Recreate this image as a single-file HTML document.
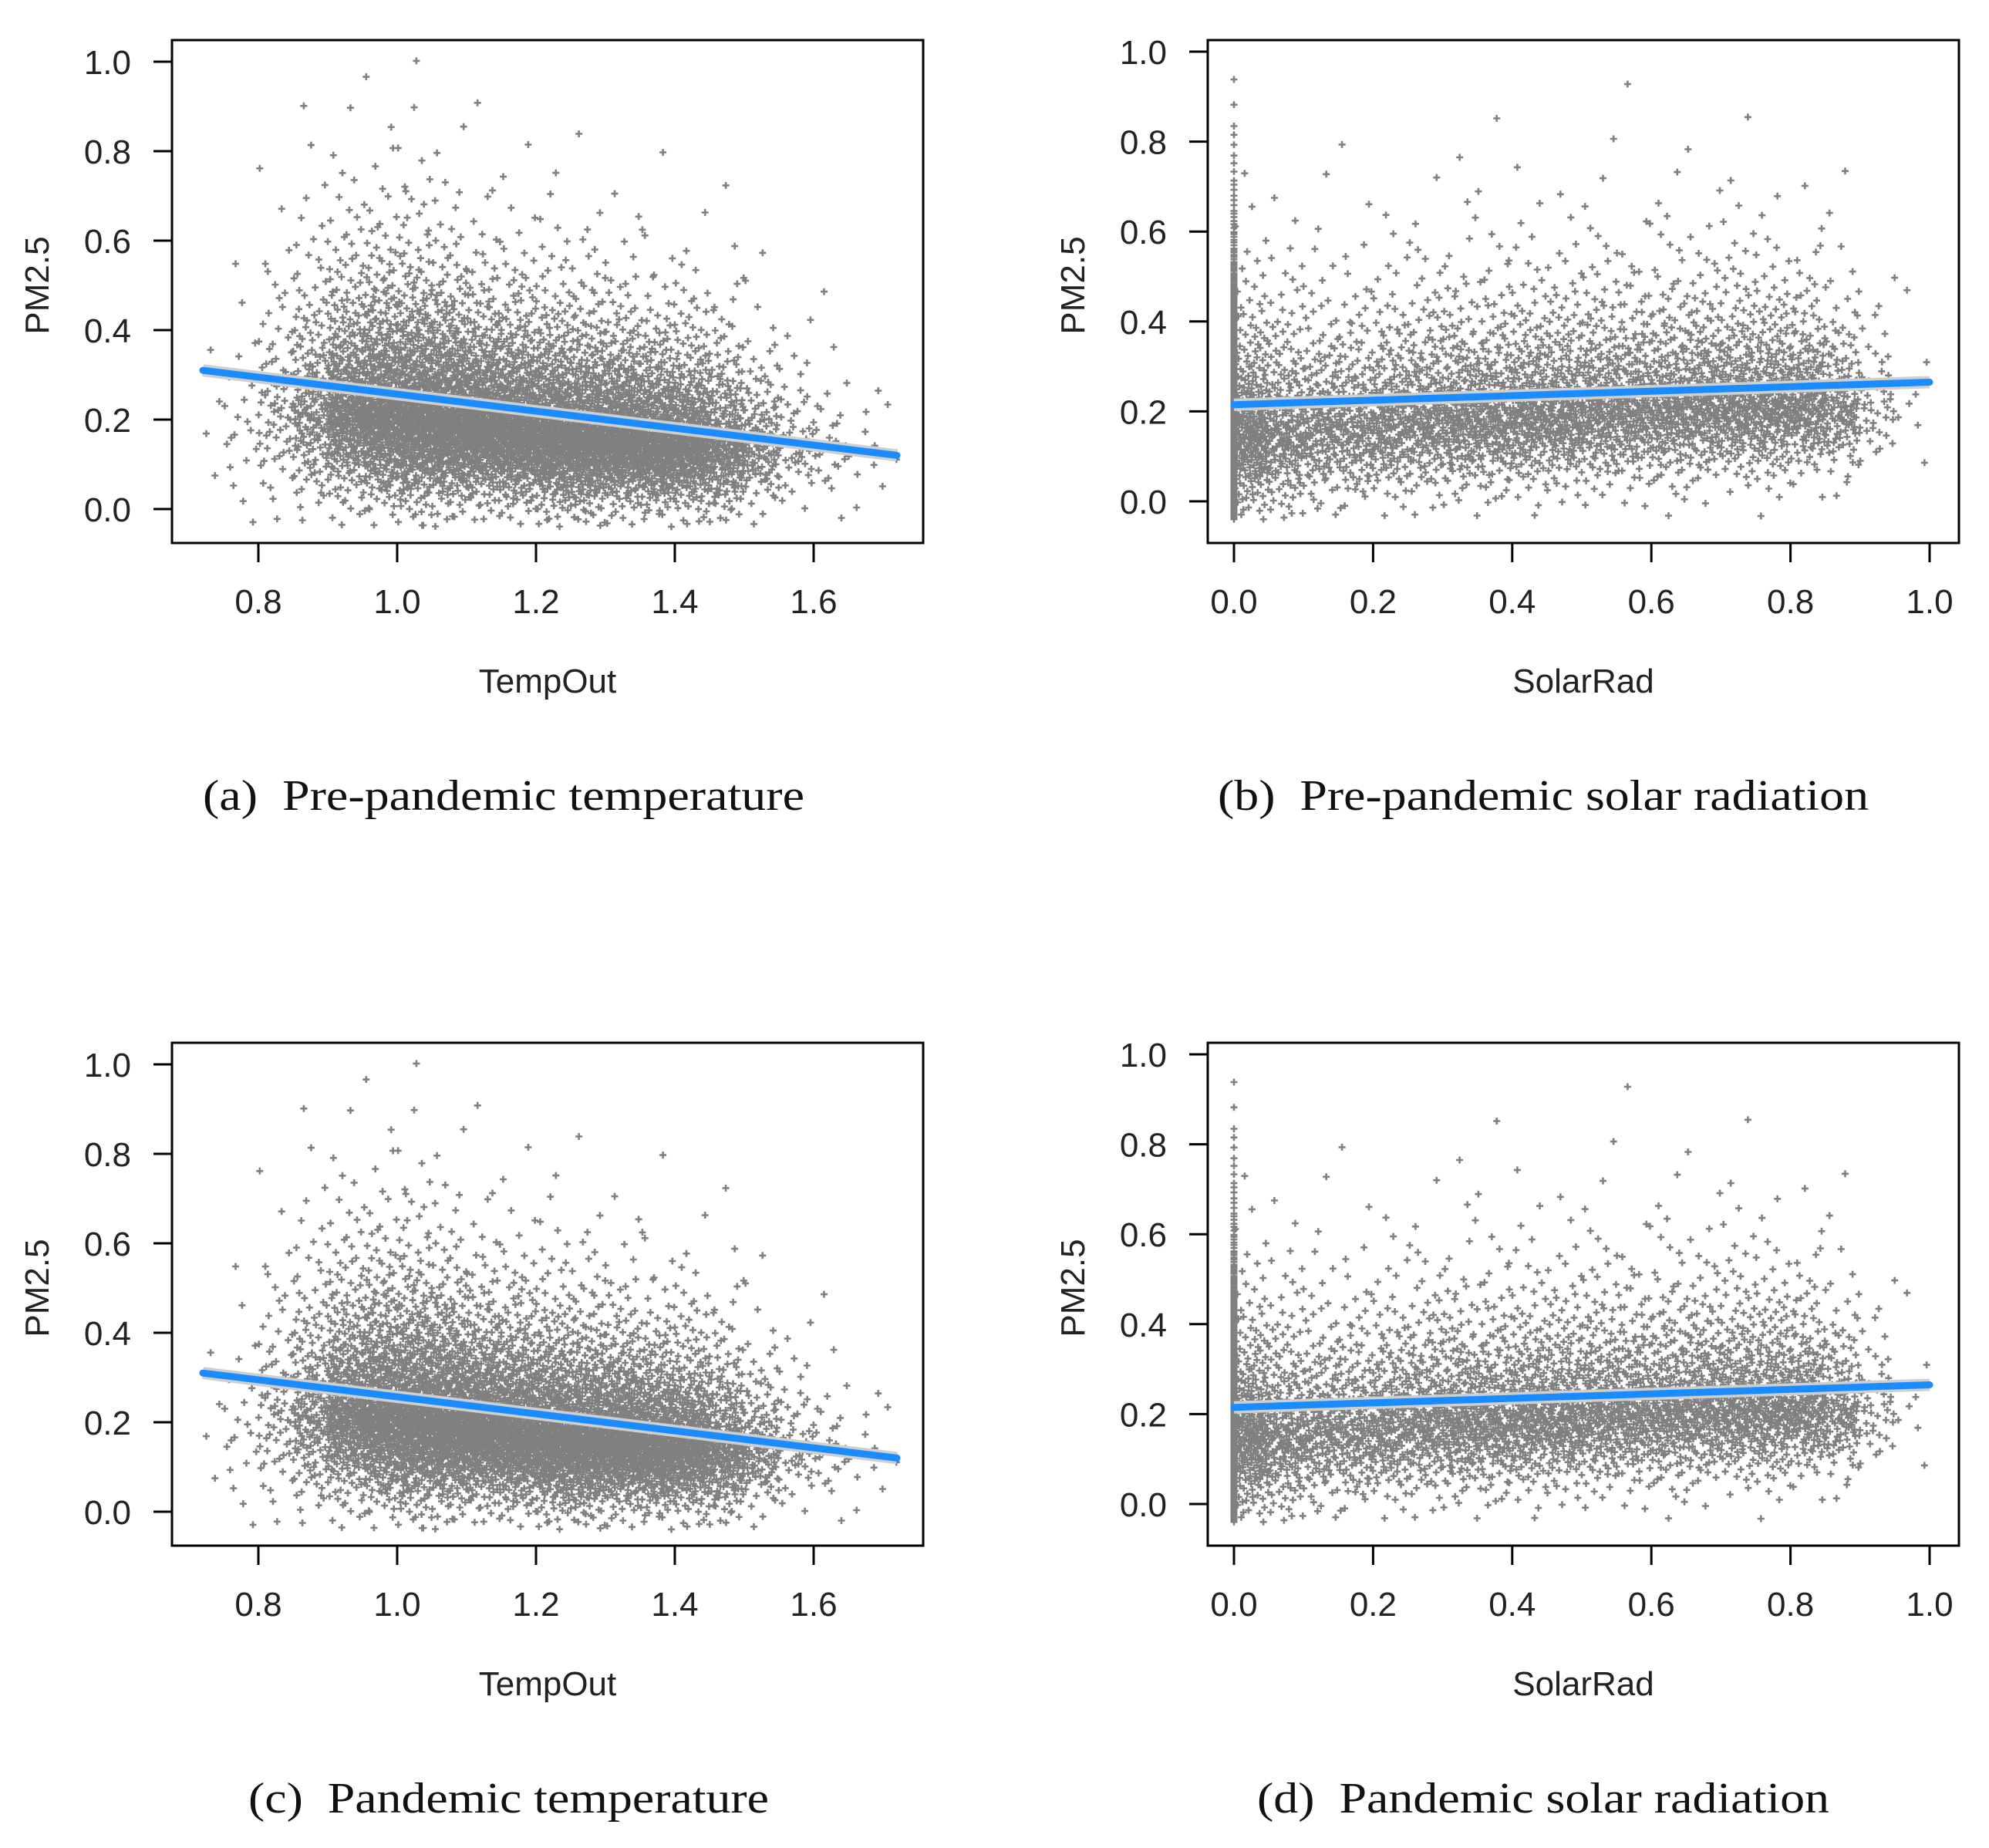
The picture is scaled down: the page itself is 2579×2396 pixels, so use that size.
<!DOCTYPE html>
<html><head><meta charset="utf-8"><style>
html,body{margin:0;padding:0;background:#fff;}
svg{display:block;}
</style></head><body>
<svg id="fig" width="2579" height="2396" viewBox="0 0 2579 2396" xmlns="http://www.w3.org/2000/svg"></svg>
<script>
// ---- data ----
const tempBinStart = [0.70,0.75,0.80,0.85,0.90,0.95,1.00,1.05,1.10,1.15,1.20,1.25,1.30,1.35,1.40,1.45,1.50,1.55,1.60,1.65,1.70];
const tempBinCount = [8,20,70,170,330,450,500,500,480,450,440,430,420,400,330,240,120,50,25,10,3];
const tempBinMean  = [0.22,0.20,0.24,0.24,0.24,0.23,0.22,0.21,0.20,0.19,0.18,0.17,0.17,0.16,0.16,0.15,0.15,0.15,0.15,0.12,0.12];
const tempBinSd    = [0.14,0.12,0.13,0.13,0.12,0.12,0.12,0.11,0.10,0.10,0.10,0.10,0.09,0.09,0.09,0.09,0.08,0.08,0.08,0.08,0.05];
const tempFitX = [0.72,1.72];
const tempFitY = [0.31,0.12];

const solarZeroCount = 500, solarZeroMean = 0.20, solarZeroSd = 0.15;
const solarBinStart = [0,0.05,0.10,0.15,0.20,0.25,0.30,0.35,0.40,0.45,0.50,0.55,0.60,0.65,0.70,0.75,0.80,0.85,0.90,0.95];
const solarBinCount = [260,180,160,160,170,185,200,200,200,200,200,200,200,200,200,200,190,130,40,8];
const solarBinMean  = [0.17,0.17,0.18,0.18,0.19,0.20,0.20,0.20,0.21,0.21,0.22,0.22,0.22,0.23,0.23,0.23,0.23,0.22,0.22,0.21];
const solarBinSd    = [0.11,0.11,0.10,0.10,0.10,0.10,0.10,0.10,0.10,0.10,0.10,0.10,0.10,0.10,0.10,0.10,0.09,0.09,0.08,0.06];
const solarFitX = [0,0.5,1];
const solarFitY = [0.215,0.24,0.265];

const tempXTicks = [0.8,1.0,1.2,1.4,1.6];
const tempXTickLabels = ["0.8","1.0","1.2","1.4","1.6"];
const solarXTicks = [0,0.2,0.4,0.6,0.8,1.0];
const solarXTickLabels = ["0.0","0.2","0.4","0.6","0.8","1.0"];
const yTicks = [0,0.2,0.4,0.6,0.8,1.0];
const yTickLabels = ["0.0","0.2","0.4","0.6","0.8","1.0"];

// ---- helpers ----
const NS="http://www.w3.org/2000/svg";
const svg=document.getElementById('fig');
function mk(tag,attrs,parent){const e=document.createElementNS(NS,tag);for(const k in attrs)e.setAttribute(k,attrs[k]);(parent||svg).appendChild(e);return e;}
function halton(i,b){let f=1,r=0;while(i>0){f/=b;r+=f*(i%b);i=Math.floor(i/b);}return r;}
function probit(p){p=Math.min(Math.max(p,0.0005),0.9995);const a=[-39.696830,220.946098,-275.928510,138.357751,-30.664798,2.506628],b=[-54.476098,161.585836,-155.698979,66.801311,-13.280681],c=[-0.007784894,-0.3223964,-2.400758,-2.549732,4.374664,2.938163],d=[0.007784695,0.3224671,2.445134,3.754408];
const pl=0.02425;let q,r;if(p<pl){q=Math.sqrt(-2*Math.log(p));return(((((c[0]*q+c[1])*q+c[2])*q+c[3])*q+c[4])*q+c[5])/((((d[0]*q+d[1])*q+d[2])*q+d[3])*q+1);}
if(p>1-pl){q=Math.sqrt(-2*Math.log(1-p));return-(((((c[0]*q+c[1])*q+c[2])*q+c[3])*q+c[4])*q+c[5])/((((d[0]*q+d[1])*q+d[2])*q+d[3])*q+1);}
q=p-0.5;r=q*q;return(((((a[0]*r+a[1])*r+a[2])*r+a[3])*r+a[4])*r+a[5])*q/(((((b[0]*r+b[1])*r+b[2])*r+b[3])*r+b[4])*r+1);}
// skewed spread: long upper tail, short lower tail
function skewZ(v){const z=probit(v);return z>0 ? z*(1+0.35*z) : z*0.85;}
function foldLow(y){ if(y<-0.04){ y=-0.04+(-0.04-y)*1.5; } return y; }

function drawPanel(name,P,kind){
  const g=mk('g',{});
  
  
  const X=v=>P.x0+(v-P.xv0)*P.xs, Y=v=>P.y0-v*P.ys;
  let d='';
  const plus=(px,py)=>{d+=`M${(px-4.5).toFixed(1)} ${py.toFixed(1)}h9M${px.toFixed(1)} ${(py-4.5).toFixed(1)}v9`;};
  let idx=1;
  const bs = kind==='temp'?tempBinStart:solarBinStart, bc=kind==='temp'?tempBinCount:solarBinCount,
        bm = kind==='temp'?tempBinMean:solarBinMean, bsd=kind==='temp'?tempBinSd:solarBinSd;
  const xmin = kind==='temp'?0.72:0, xmax = kind==='temp'?1.72:1;
  for(let k=0;k<bs.length;k++){
    for(let i=0;i<bc[k];i++){
      const u=halton(idx,2), v=halton(idx,3); idx++;
      let xv=bs[k]+u*0.05; if(xv<xmin||xv>xmax) continue;
      let yv=foldLow(bm[k]+bsd[k]*skewZ(v));
      if(yv>1.01) continue;
      plus(X(xv),Y(yv));
    }
  }
  if(kind==='solar'){
    for(let i=0;i<solarZeroCount;i++){
      const v=halton(idx,3); idx++;
      let yv=foldLow(solarZeroMean+solarZeroSd*skewZ(v)); if(yv>0.98) continue;
      plus(X(0),Y(yv));
    }
  }
  const pts=mk('path',{d:d,stroke:'#808080','stroke-width':2.6,fill:'none'},g);
  
  
  const fx=kind==='temp'?tempFitX:solarFitX, fy=kind==='temp'?tempFitY:solarFitY;
  const lp=fx.map((v,i)=>`${X(v).toFixed(1)},${Y(fy[i]).toFixed(1)}`).join(' ');
  const band=mk('polyline',{points:lp,stroke:'#cfcfcf','stroke-width':16,fill:'none'},g);
  
  
  const ln=mk('polyline',{points:lp,stroke:'#1a8cff','stroke-width':9,fill:'none','stroke-linecap':'round'},g);
  
  
  const bx=mk('rect',{x:P.bx,y:P.by,width:P.bw,height:P.bh,fill:'none',stroke:'#000','stroke-width':3},g);
  
  
  yTicks.forEach((t,i)=>{
    const yy=Y(t);
    const tk=mk('line',{x1:P.bx-24,x2:P.bx,y1:yy,y2:yy,stroke:'#000','stroke-width':3},g);
    
    
    const tl=mk('text',{x:P.bx-53,y:yy+16,'text-anchor':'end','font-family':'Liberation Sans, sans-serif','font-size':44,fill:'#222'},g);
    tl.textContent=yTickLabels[i];
    
    
  });
  const xt=kind==='temp'?tempXTicks:solarXTicks, xl=kind==='temp'?tempXTickLabels:solarXTickLabels;
  xt.forEach((t,i)=>{
    const xx=X(t);
    const tk=mk('line',{x1:xx,x2:xx,y1:P.by+P.bh,y2:P.by+P.bh+25,stroke:'#000','stroke-width':3},g);
    
    
    const tl=mk('text',{x:xx,y:P.by+P.bh+91,'text-anchor':'middle','font-family':'Liberation Sans, sans-serif','font-size':44,fill:'#222'},g);
    tl.textContent=xl[i];
    
    
  });
  const xtitle=mk('text',{x:P.bx+P.bw/2,y:P.by+P.bh+194,'text-anchor':'middle','font-family':'Liberation Sans, sans-serif','font-size':44,fill:'#222'},g);
  xtitle.textContent=kind==='temp'?'TempOut':'SolarRad';
  
  
  const yc=P.by+318, ytx=P.bx-160;
  const ytitle=mk('text',{x:ytx,y:yc,'text-anchor':'middle','font-family':'Liberation Sans, sans-serif','font-size':44,fill:'#222',transform:`rotate(-90 ${ytx} ${yc})`},g);
  ytitle.textContent='PM2.5';
  
  
  const cap=mk('text',{x:P.capX,y:P.by+998,'font-family':'Liberation Serif, serif','font-size':56,fill:'#111',textLength:P.capW,lengthAdjust:'spacingAndGlyphs'},g);
  cap.textContent=P.cap;
  
  
}

const geomA={bx:223,by:52,bw:974,bh:652,x0:335,xv0:0.8,xs:900,y0:660,ys:580,capX:263,capW:780,cap:'(a)\u00a0 Pre-pandemic temperature'};
const geomB={bx:1566,by:52,bw:974,bh:652,x0:1600,xv0:0,xs:902,y0:650,ys:583,capX:1579,capW:844,cap:'(b)\u00a0 Pre-pandemic solar radiation'};
const geomC=Object.assign({},geomA,{by:1352,y0:1960,capX:322,capW:675,cap:'(c)\u00a0 Pandemic temperature'});
const geomD=Object.assign({},geomB,{by:1352,y0:1950,capX:1630,capW:742,cap:'(d)\u00a0 Pandemic solar radiation'});
drawPanel('panel-a-temperature-pre',geomA,'temp');
drawPanel('panel-b-solar-pre',geomB,'solar');
drawPanel('panel-c-temperature-pandemic',geomC,'temp');
drawPanel('panel-d-solar-pandemic',geomD,'solar');
</script>
</body></html>
